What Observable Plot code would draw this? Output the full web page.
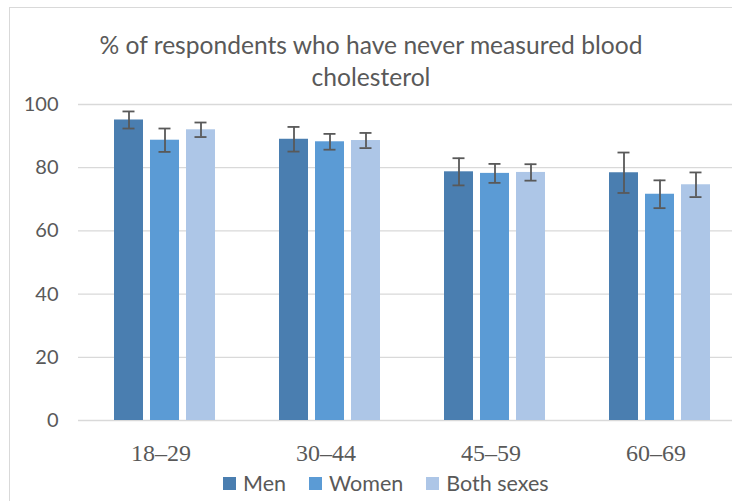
<!DOCTYPE html>
<html>
<head>
<meta charset="utf-8">
<script src="https://cdn.jsdelivr.net/npm/d3@7"></script>
<script src="https://cdn.jsdelivr.net/npm/@observablehq/plot@0.6"></script>
<style>
  html, body { margin: 0; padding: 0; background: #fff; }
  #wrap { position: relative; width: 732px; height: 501px; overflow: hidden; background: #fff; }
  #frame { position: absolute; left: 9px; top: 7px; width: 800px; height: 600px; border: 1px solid #d9d9d9; box-sizing: border-box; }
  #chart { position: absolute; left: 0; top: 0; }
  #title { position: absolute; left: 0; top: 29px; width: 742px; text-align: center; font-family: Lato, sans-serif; font-size: 24.6px; line-height: 32px; color: #595959; }
  #legend { position: absolute; left: 223px; top: 470px; display: flex; align-items: center; font-family: Lato, sans-serif; font-size: 21.5px; color: #595959; white-space: nowrap; }
  .item { display: flex; align-items: center; margin-right: 23px; }
  .sw { width: 13px; height: 13px; margin-right: 7px; }
</style>
</head>
<body>
<div id="wrap">
  <div id="frame"></div>
  <div id="chart"></div>
  <div id="title">% of respondents who have never measured blood<br>cholesterol</div>
  <div id="legend"></div>
</div>
<script>
const titleText = "% of respondents who have never measured blood cholesterol";
const categories = ["18–29", "30–44", "45–59", "60–69"];
const series = ["Men", "Women", "Both sexes"];
const men = [95.1, 89.0, 78.7, 78.4];
const women = [88.7, 88.2, 78.2, 71.6];
const both = [92.0, 88.6, 78.5, 74.6];
const menErr = [2.7, 3.9, 4.3, 6.4];
const womenErr = [3.7, 2.5, 3.0, 4.4];
const bothErr = [2.3, 2.4, 2.6, 3.9];
const yTicks = [0, 20, 40, 60, 80, 100];
const colors = ["#4a7eb0", "#5b9bd5", "#adc6e7"];

const values = [men, women, both];
const errs = [menErr, womenErr, bothErr];
const data = [];
categories.forEach((c, i) => series.forEach((s, j) => {
  data.push({group: c, series: s, value: values[j][i], err: errs[j][i]});
}));

const errColor = "#595959";
const serif = "Liberation Serif";
const chart = Plot.plot({
  width: 732,
  height: 501,
  marginLeft: 77,
  marginRight: -7,
  marginTop: 104,
  marginBottom: 81,
  style: {fontFamily: "Lato, sans-serif", color: "#595959", background: "transparent", overflow: "hidden"},
  fx: {domain: categories, padding: 0, label: null},
  x: {domain: series, paddingInner: 0.205, paddingOuter: 0.87, align: 0.555, axis: null},
  y: {domain: [0, 100], label: null},
  color: {domain: series, range: colors},
  marks: [
    Plot.gridY(yTicks, {stroke: "#d9d9d9", strokeOpacity: 1, strokeWidth: 1.3}),
    Plot.barY(data, {fx: "group", x: "series", y: "value", fill: "series"}),
    Plot.ruleX(data, {fx: "group", x: "series", y1: d => d.value - d.err, y2: d => d.value + d.err, stroke: errColor, strokeWidth: 1.8}),
    Plot.tickY(data, {fx: "group", x: "series", y: d => d.value + d.err, insetLeft: 8.5, insetRight: 8.5, stroke: errColor, strokeWidth: 1.8}),
    Plot.tickY(data, {fx: "group", x: "series", y: d => d.value - d.err, insetLeft: 8.5, insetRight: 8.5, stroke: errColor, strokeWidth: 1.8}),
    Plot.axisY({ticks: yTicks, tickSize: 0, tickPadding: 20, fontSize: 20, label: null}),
    Plot.axisFx({anchor: "bottom", tickSize: 0, tickPadding: 23, fontSize: 24, fontFamily: serif, label: null})
  ]
});
document.getElementById("chart").appendChild(chart);

const legend = document.getElementById("legend");
series.forEach((s, i) => {
  const item = document.createElement("div");
  item.className = "item";
  const sw = document.createElement("div");
  sw.className = "sw";
  sw.style.background = colors[i];
  const label = document.createElement("span");
  label.textContent = s;
  item.appendChild(sw);
  item.appendChild(label);
  legend.appendChild(item);
});
</script>
</body>
</html>
